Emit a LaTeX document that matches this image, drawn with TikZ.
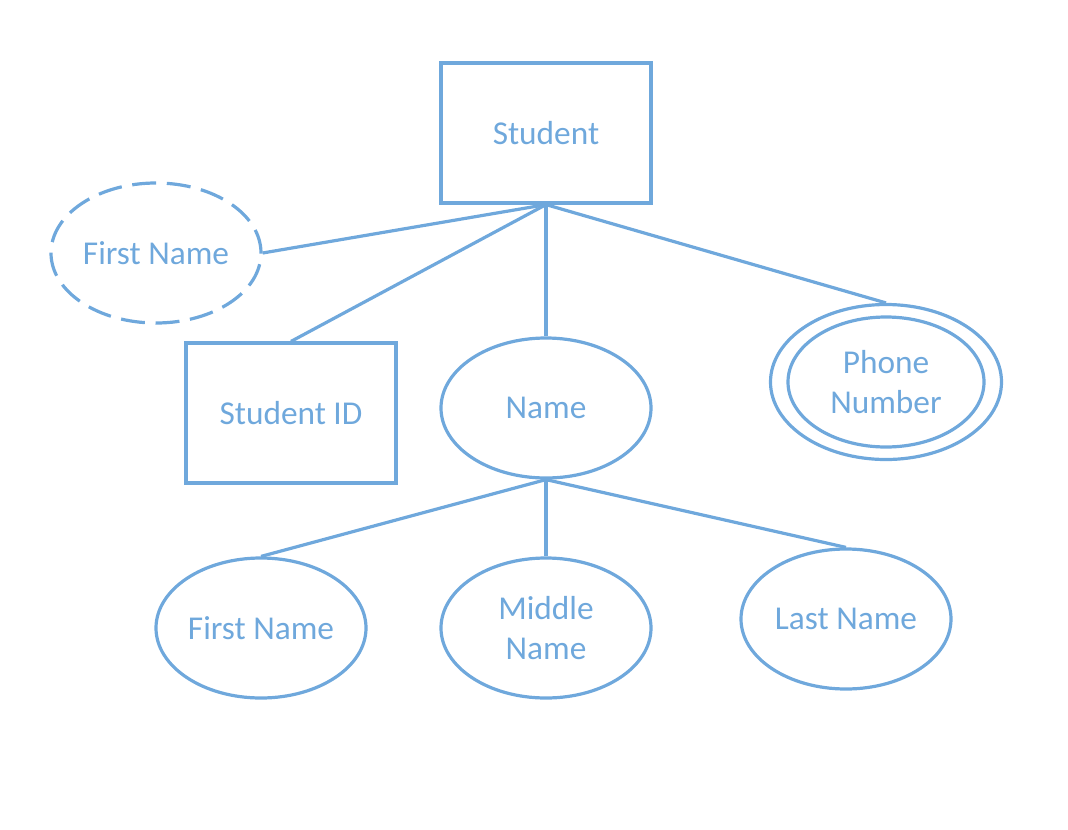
\documentclass[tikz,border=0pt]{standalone}
\usepackage{fontspec}
\setmainfont{Carlito}
\usetikzlibrary{shapes.geometric}
\definecolor{erblue}{HTML}{6FA8DC}
\begin{document}
\begin{tikzpicture}[x=0.75pt, y=-0.75pt,
    every node/.style={text=erblue, font=\fontsize{25}{30}\selectfont, align=center},
    entity/.style={draw=erblue, line width=2.4pt, rectangle, minimum width=157.5pt, minimum height=105pt},
    attr/.style={draw=erblue, line width=2.4pt, ellipse, minimum width=157.5pt, minimum height=105pt, inner sep=0pt},
    link/.style={draw=erblue, line width=2.4pt}]
            \useasboundingbox (0,0) rectangle (1068,829);
            % entities
            \node [entity] (student) at (546,133) {Student};
            \node [entity] (sid) at (291,413) {Student ID};
            % attributes
            \node [attr, dash pattern=on 18pt off 8pt] (fname-top) at (156,253) {First Name};
            \node [attr] (name) at (546,408) {Name};
            \node [attr, minimum width=173.25pt, minimum height=116.25pt] (phone) at (886,382) {};
            \node [attr, minimum width=147pt, minimum height=97.5pt] (phone-in) at (886,382) {Phone\\Number};
            \node [attr] (fname) at (261,628) {First Name};
            \node [attr] (mname) at (546,628) {Middle\\Name};
            \node [attr] (lname) at (846,619) {Last Name};
            % links
            \draw [link] (student.south) -- (fname-top.east);
            \draw [link] (student.south) -- (sid.north);
            \draw [link] (student.south) -- (name.north);
            \draw [link] (student.south) -- (phone.north);
            \draw [link] (name.south) -- (fname.north);
            \draw [link] (name.south) -- (mname.north);
            \draw [link] (name.south) -- (lname.north);
\end{tikzpicture}
\end{document}
